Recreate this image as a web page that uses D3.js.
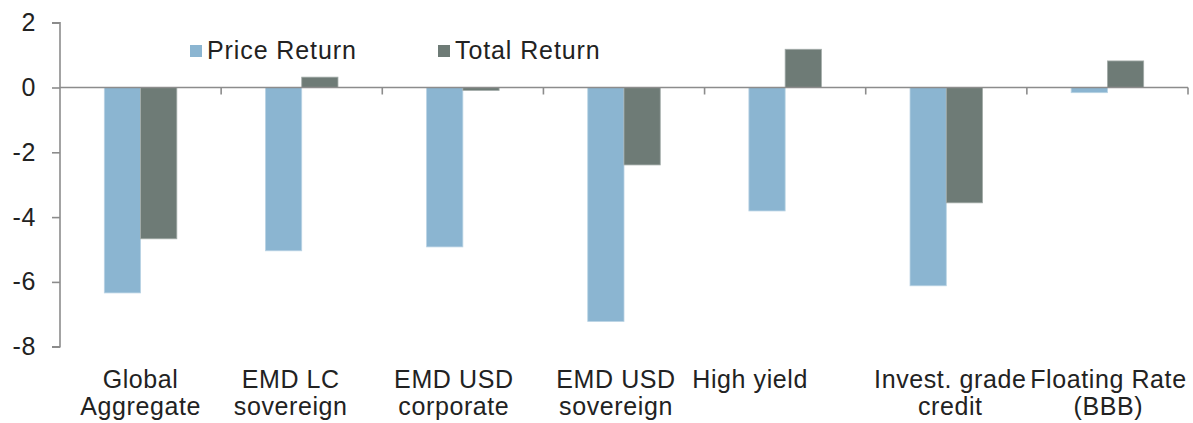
<html>
<head>
<meta charset="utf-8">
<script src="https://d3js.org/d3.v7.min.js"></script>
<style>
  body { margin: 0; background: #fff; }
  text { font-family: "Liberation Sans", Arial, sans-serif; fill: #222; }
</style>
</head>
<body>
<script>
    // ---- data ----
    var categories = [
        ["Global", "Aggregate"],
        ["EMD LC", "sovereign"],
        ["EMD USD", "corporate"],
        ["EMD USD", "sovereign"],
        ["High yield"],
        ["Invest. grade", "credit"],
        ["Floating Rate", "(BBB)"]
    ];
    var seriesNames = ["Price Return", "Total Return"];
    var priceReturn = [-6.34, -5.04, -4.92, -7.22, -3.81, -6.12, -0.16];
    var totalReturn = [-4.67, 0.32, -0.09, -2.39, 1.18, -3.56, 0.82];
    var yTicks = [2, 0, -2, -4, -6, -8];

    var colors = ["#8bb5d1", "#6e7b76"];
    // small nudges so the wrapped labels sit where the original put them
    var labelShift = [0, -11, -9, -8, -35, 4, 1];

    var W = 1193, H = 423;
    var svg = d3.select("body").append("svg")
        .attr("width", W)
        .attr("height", H);

    var y = d3.scaleLinear().domain([-8, 2]).range([346.7, 22.7]);
    var x = d3.scaleBand().domain(d3.range(categories.length)).range([60, 1188]);
    var inner = d3.scaleBand().domain([0, 1])
        .range([0, x.bandwidth() * 0.45])
        .paddingInner(0);
    var offset = (x.bandwidth() - x.bandwidth() * 0.45) / 2;

    var rows = categories.map(function (c, i) {
        return {i: i, vals: [priceReturn[i], totalReturn[i]]};
    });

    // bars
    var g = svg.selectAll("g.cat").data(rows).enter().append("g")
        .attr("class", "cat")
        .attr("transform", function (d) { return "translate(" + (x(d.i) + offset) + ",0)"; });
    g.selectAll("rect").data(function (d) { return d.vals; }).enter().append("rect")
        .attr("x", function (d, j) { return inner(j); })
        .attr("width", inner.bandwidth())
        .attr("y", function (d) { return y(Math.max(0, d)); })
        .attr("height", function (d) { return Math.abs(y(d) - y(0)); })
        .attr("fill", function (d, j) { return colors[j]; })
        .attr("stroke", function (d, j) { return j == 0 ? "#b9d3e4" : "#a3aca9"; })
        .attr("stroke-width", 0.8);

    // y axis (plain hyphen for negatives, like the original)
    var yAxis = d3.axisLeft(y).tickValues(yTicks).tickSize(8).tickPadding(16)
        .tickFormat(function (d) { return String(d); });
    var ya = svg.append("g").attr("transform", "translate(60,0)").call(yAxis);
    ya.select(".domain").attr("stroke", "#8c8c8c").attr("stroke-width", 1.6).attr("d", "M-8,22.7H0V346.7H-8");
    ya.selectAll(".tick line").attr("stroke", "#8c8c8c").attr("stroke-width", 1.6);
    ya.selectAll(".tick text").style("font-size", "25px").attr("fill", "#222")
        .style("font-family", "Liberation Sans, Arial, sans-serif")
        .style("letter-spacing", "0.6px");

    // zero line with category ticks
    var bounds = d3.range(1, categories.length + 1).map(function (i) {
        return i < categories.length ? x(i) : x.range()[1];
    });
    svg.append("line")
        .attr("x1", 60).attr("x2", 1188)
        .attr("y1", y(0)).attr("y2", y(0))
        .attr("stroke", "#8c8c8c").attr("stroke-width", 1.6);
    svg.selectAll("line.xt").data(bounds).enter().append("line")
        .attr("class", "xt")
        .attr("x1", function (d) { return d; }).attr("x2", function (d) { return d; })
        .attr("y1", y(0)).attr("y2", y(0) + 7)
        .attr("stroke", "#8c8c8c").attr("stroke-width", 1.6);

    // category labels
    var lab = svg.selectAll("text.cat").data(categories).enter().append("text")
        .attr("class", "cat")
        .attr("text-anchor", "middle")
        .style("font-size", "25px")
        .style("letter-spacing", "0.6px")
        .attr("transform", function (d, i) {
            return "translate(" + (x(i) + x.bandwidth() / 2 + labelShift[i]) + ",388)";
        });
    lab.selectAll("tspan").data(function (d) { return d; }).enter().append("tspan")
        .attr("x", 0)
        .attr("dy", function (d, k) { return k == 0 ? 0 : 27; })
        .text(function (d) { return d; });

    // legend
    var legX = [190, 438];
    var leg = svg.selectAll("g.leg").data(seriesNames).enter().append("g")
        .attr("class", "leg")
        .attr("transform", function (d, i) { return "translate(" + legX[i] + ",45)"; });
    leg.append("rect").attr("width", 12).attr("height", 12)
        .attr("fill", function (d, i) { return colors[i]; });
    leg.append("text").attr("x", 17).attr("y", 14)
        .style("font-size", "25px")
        .style("letter-spacing", "0.9px")
        .text(function (d) { return d; });
</script>
</body>
</html>
